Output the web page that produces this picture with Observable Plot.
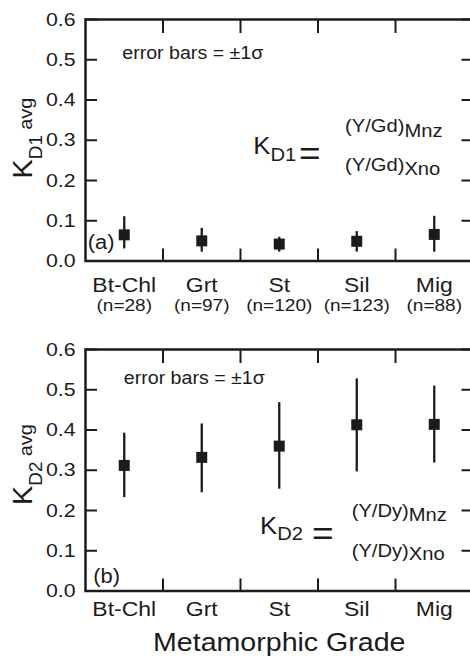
<!DOCTYPE html>
<html><head><meta charset="utf-8">
<script src="https://cdn.jsdelivr.net/npm/d3@7"></script>
<script src="https://cdn.jsdelivr.net/npm/@observablehq/plot@0.6"></script>
<style>
html,body{margin:0;padding:0;background:#fff;overflow:hidden;width:470px;height:659px;}
#chart{width:473px;}
#chart svg{display:block;}
</style></head><body><div id="chart"></div>
<script>
// ---- data ----
const categories = ["Bt-Chl", "Grt", "St", "Sil", "Mig"];
const sampleCounts = [28, 97, 120, 123, 88];
const kd1Avg  = [0.065, 0.050, 0.042, 0.049, 0.066];
const kd1Low  = [0.030, 0.022, 0.022, 0.022, 0.022];
const kd1High = [0.110, 0.081, 0.059, 0.073, 0.111];
const kd2Avg  = [0.312, 0.332, 0.360, 0.413, 0.414];
const kd2Low  = [0.232, 0.244, 0.253, 0.296, 0.318];
const kd2High = [0.392, 0.415, 0.468, 0.527, 0.509];
const yTicks = [0, 0.1, 0.2, 0.3, 0.4, 0.5, 0.6];
const yDomain = [0, 0.6];
const xLabel = "Metamorphic Grade";
const errNote = "error bars = \u00b11\u03c3";

const FONT = '"Liberation Sans", Arial, Helvetica, sans-serif';
const INK = "#1b1b1b";
const STRETCH = 1.12; // the reference's lettering is slightly wider than Arial

function rowsFor(avg, lo, hi) {
  return categories.map((c, i) => ({cat: c, pos: i + 0.5, n: `(n=${sampleCounts[i]})`, avg: avg[i], lo: lo[i], hi: hi[i]}));
}

function rich(svg, x, y, parts, {anchor = "start", rotate = 0} = {}) {
  const t = d3.select(svg).append("text")
    .attr("transform", `translate(${x},${y})` + (rotate ? ` rotate(${rotate})` : ""))
    .attr("text-anchor", anchor).attr("fill", INK).style("font-family", FONT);
  for (const p of parts) {
    const s = t.append("tspan").attr("font-size", p.size).text(p.text);
    if (p.dy) s.attr("dy", p.dy);
    if (p.dx) s.attr("dx", p.dx);
  }
  return t;
}

function widen(svg) {
  svg.querySelectorAll("text").forEach(el => {
    const L = el.getComputedTextLength();
    if (L > 0) {
      el.setAttribute("textLength", (L * STRETCH).toFixed(2));
      el.setAttribute("lengthAdjust", "spacingAndGlyphs");
    }
  });
}

function panel({rows, height, marginBottom, counts, tag, tagPos, notePos, catDy, title}) {
  const boundaries = d3.range(1, categories.length);
  const marks = [
    Plot.frame({stroke: INK, strokeWidth: 2.5}),
    Plot.axisY(yTicks, {anchor: "left", tickSize: -12, fill: "none", stroke: INK, strokeWidth: 2, label: null}),
    Plot.axisY(yTicks, {anchor: "right", tickSize: -12, fill: "none", stroke: INK, strokeWidth: 2, label: null}),
    Plot.axisY(yTicks, {anchor: "left", tickSize: 0, tickPadding: 10, tickFormat: d3.format(".1f"), fontSize: 19, fill: INK, label: null}),
    Plot.axisX(boundaries, {anchor: "bottom", tickSize: -12, fill: "none", stroke: INK, strokeWidth: 2, label: null}),
    Plot.axisX(boundaries, {anchor: "top", tickSize: -13, fill: "none", stroke: INK, strokeWidth: 2, label: null}),
    Plot.ruleX(rows, {x: "pos", y1: "lo", y2: "hi", stroke: INK, strokeWidth: 2.3}),
    Plot.dot(rows, {x: "pos", y: "avg", symbol: "square", r: 6.2, fill: INK, stroke: "none"}),
    Plot.text(rows, {x: "pos", frameAnchor: "bottom", text: "cat", lineAnchor: "bottom", dy: catDy, fontSize: 20.5, fill: INK}),
    Plot.text([errNote], {x: notePos[0], y: notePos[1], text: d => d, textAnchor: "start", lineAnchor: "bottom", fontSize: 17.5, fill: INK}),
    Plot.text([tag], {x: tagPos[0], y: tagPos[1], text: d => d, textAnchor: "start", lineAnchor: "bottom", fontSize: 19.5, fill: INK})
  ];
  if (counts) marks.push(Plot.text(rows, {x: "pos", frameAnchor: "bottom", text: "n", lineAnchor: "bottom", dy: 50, fontSize: 17, fill: INK}));
  if (title) marks.push(Plot.text([title], {x: categories.length / 2, frameAnchor: "bottom", text: d => d, lineAnchor: "bottom", dy: 60, fontSize: 25.5, fill: INK}));
  return Plot.plot({
    width: 473, height,
    marginLeft: 85, marginRight: 0.5, marginTop: 19, marginBottom,
    style: `font-family: ${FONT}; max-width: none; background: #fff; color: ${INK};`,
    x: {domain: [0, categories.length]},
    y: {domain: yDomain},
    marks
  });
}

const host = document.getElementById("chart");

// ---- panel (a) ----
const rowsA = rowsFor(kd1Avg, kd1Low, kd1High);
const a = panel({rows: rowsA, height: 330, marginBottom: 69.5, counts: true, tag: "(a)", tagPos: [0.03, 0.0286], notePos: [0.474, 0.503], catDy: 31});
host.appendChild(a);
{
  const sx = a.scale("x"), sy = a.scale("y");
  rich(a, 31.7, sy.apply(0.3) - 1.5, [
    {text: "K", size: 28}, {text: "D1", size: 18, dy: 10}, {text: "avg", size: 19, dy: -10, dx: 5}
  ], {anchor: "middle", rotate: -90});
  rich(a, sx.apply(2.172), sy.apply(0.2658), [{text: "K", size: 23}, {text: "D1", size: 18, dy: 7.5}]);
  rich(a, sx.apply(2.761), sy.apply(0.2385), [{text: "=", size: 33}]);
  rich(a, sx.apply(3.355), sy.apply(0.3193), [{text: "(Y/Gd)", size: 18}, {text: "Mnz", size: 18, dy: 5}]);
  rich(a, sx.apply(3.355), sy.apply(0.2224), [{text: "(Y/Gd)", size: 18}, {text: "Xno", size: 18, dy: 4}]);
}
widen(a);

// ---- panel (b) ----
const rowsB = rowsFor(kd2Avg, kd2Low, kd2High);
const b = panel({rows: rowsB, height: 329, marginBottom: 68.5, counts: false, tag: "(b)", tagPos: [0.1, 0.021], notePos: [0.494, 0.515], catDy: 25, title: xLabel});
host.appendChild(b);
{
  const sx = b.scale("x"), sy = b.scale("y");
  rich(b, 31.7, sy.apply(0.3) - 5, [
    {text: "K", size: 28}, {text: "D2", size: 18, dy: 10}, {text: "avg", size: 19, dy: -10, dx: 5}
  ], {anchor: "middle", rotate: -90});
  rich(b, sx.apply(2.258), sy.apply(0.1404), [{text: "K", size: 23}, {text: "D2", size: 18, dy: 6.5}]);
  rich(b, sx.apply(2.929), sy.apply(0.113), [{text: "=", size: 33}]);
  rich(b, sx.apply(3.441), sy.apply(0.1814), [{text: "(Y/Dy)", size: 18}, {text: "Mnz", size: 18, dy: 4}]);
  rich(b, sx.apply(3.441), sy.apply(0.082), [{text: "(Y/Dy)", size: 18}, {text: "Xno", size: 18, dy: 3}]);
}
widen(b);
</script></body></html>
